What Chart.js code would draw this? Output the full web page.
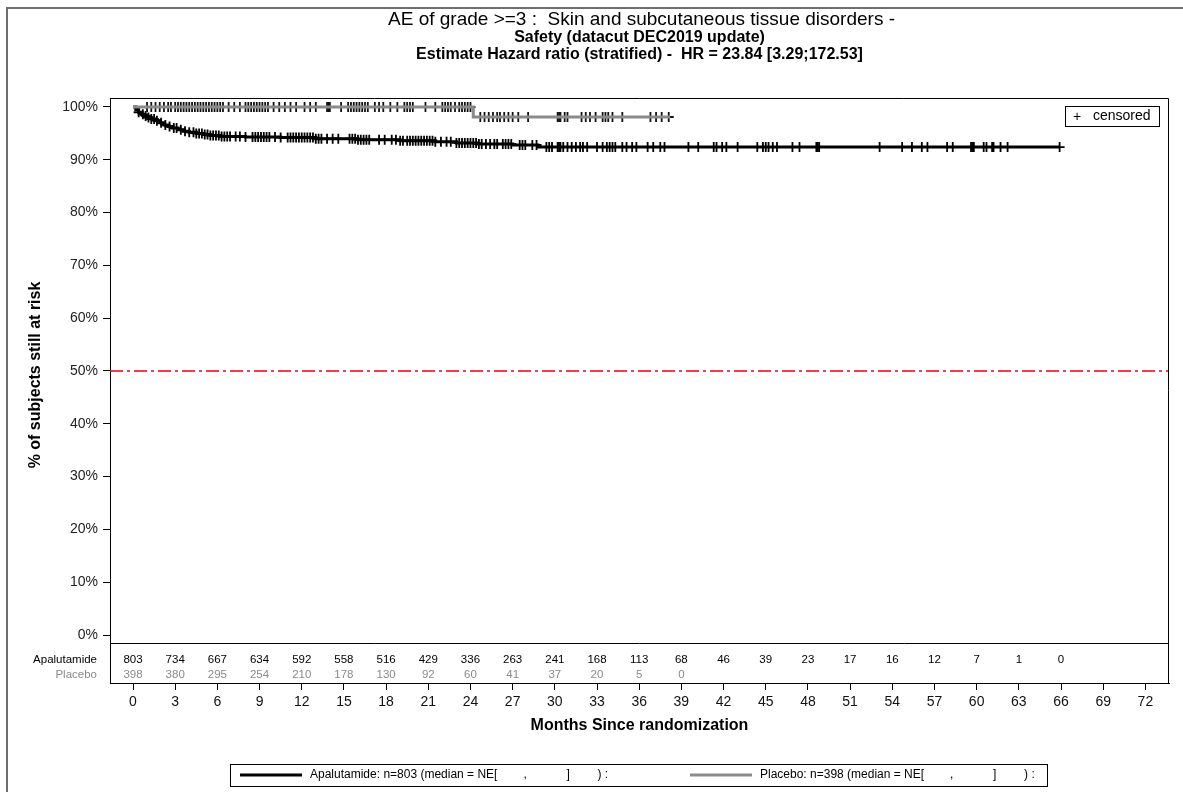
<!DOCTYPE html>
<html>
<head>
<meta charset="utf-8">
<title>AE of grade >=3 : Skin and subcutaneous tissue disorders</title>
<script src="https://cdn.jsdelivr.net/npm/chart.js@4.4.1/dist/chart.umd.min.js"></script>
<style>
  html, body { margin: 0; padding: 0; background: #fff; }
  canvas { display: block; }
</style>
</head>
<body>
<canvas id="km" width="1183" height="792"></canvas>
<script>
// ---- chart text ----
const titleMain = 'AE of grade >=3 :  Skin and subcutaneous tissue disorders -';
const titleSub = ['Safety (datacut DEC2019 update)',
                  'Estimate Hazard ratio (stratified) -  HR = 23.84 [3.29;172.53]'];
const yTitle = '% of subjects still at risk';
const xTitle = 'Months Since randomization';
const armNames = ['Apalutamide', 'Placebo'];

// ---- axes ----
const monthTicks = [0, 3, 6, 9, 12, 15, 18, 21, 24, 27, 30, 33, 36, 39, 42, 45, 48, 51, 54, 57, 60, 63, 66, 69, 72];
const pctTicks = [0, 10, 20, 30, 40, 50, 60, 70, 80, 90, 100];

// ---- numbers at risk (one value per 3-month tick) ----
const apaAtRisk = [803, 734, 667, 634, 592, 558, 516, 429, 336, 263, 241, 168, 113, 68, 46, 39, 23, 17, 16, 12, 7, 1, 0];
const plaAtRisk = [398, 380, 295, 254, 210, 178, 130, 92, 60, 41, 37, 20, 5, 0];

// ---- Kaplan-Meier steps (months, % without event) ----
const apaTimes = [0, 0.2, 0.4, 0.6, 0.8, 1.0, 1.3, 1.6, 1.9, 2.2, 2.5, 2.8, 3.2, 3.6, 4.0, 4.5, 5.0, 5.5, 6.2, 8.0, 10.5, 13.0, 16.0, 19.0, 21.5, 23.0, 24.5, 27.0, 28.8];
const apaSurv  = [100, 99.5, 99.0, 98.6, 98.3, 98.0, 97.7, 97.4, 97.0, 96.6, 96.3, 96.0, 95.7, 95.4, 95.2, 95.0, 94.8, 94.6, 94.4, 94.3, 94.2, 94.0, 93.8, 93.6, 93.4, 93.2, 93.0, 92.8, 92.4];
const apaLastFollowUp = 65.9;

const plaTimes = [0, 24.2];
const plaSurv  = [100, 98.1];
const plaLastFollowUp = 38.2;

// ---- censoring times (months) ----
const apaCensored = [0.4, 0.7, 0.9, 1.1, 1.3, 1.5, 1.7, 2.0, 2.3, 2.6, 2.9, 3.1, 3.4, 3.7, 4.0, 4.3, 4.5, 4.7, 4.9, 5.1, 5.3, 5.5, 5.7, 5.9,
  6.1, 6.3, 6.5, 6.7, 6.9, 7.3, 7.6, 8.0, 8.5, 8.7, 8.9, 9.1, 9.3, 9.5, 9.7, 10.1, 10.5, 11.0, 11.2, 11.4, 11.6, 11.8, 12.0, 12.2,
  12.4, 12.6, 12.8, 13.0, 13.2, 13.4, 13.8, 14.2, 14.6, 15.4, 15.6, 15.8, 16.0, 16.2, 16.4, 16.6, 16.8, 17.5, 17.9, 18.4, 18.7,
  19.0, 19.2, 19.5, 19.7, 19.9, 20.1, 20.3, 20.5, 20.7, 20.9, 21.1, 21.3, 21.5, 21.9, 22.3, 22.6, 23.0, 23.2, 23.4, 23.6, 23.8,
  24.0, 24.2, 24.4, 24.6, 24.8, 25.1, 25.4, 25.7, 25.9, 26.3, 26.5, 26.7, 26.9, 27.5, 27.7, 27.9, 28.4, 28.7, 29.4, 29.6, 29.8,
  30.2, 30.3, 30.4, 30.6, 30.9, 31.2, 31.5, 31.8, 32.0, 32.3, 33.0, 33.4, 33.7, 33.9, 34.1, 34.3, 34.8, 35.1, 35.5, 35.8, 36.6,
  37.0, 37.5, 37.8, 39.5, 40.2, 41.3, 41.5, 41.9, 42.2, 43.0, 44.4, 44.8, 45.0, 45.2, 45.5, 45.8, 46.9, 47.4, 48.6, 48.7, 48.8,
  53.1, 54.7, 55.4, 56.1, 56.5, 57.9, 58.3, 59.6, 59.7, 59.8, 60.5, 60.7, 61.1, 61.2, 61.7, 62.2, 65.9];
const plaCensored = [1.0, 1.3, 1.6, 1.9, 2.2, 2.5, 2.7, 3.0, 3.2, 3.4, 3.6, 3.8, 4.0, 4.2, 4.4, 4.6, 4.8, 5.0, 5.2, 5.4, 5.6, 5.8,
  6.0, 6.2, 6.4, 6.8, 7.2, 7.6, 8.0, 8.2, 8.4, 8.6, 8.8, 9.0, 9.2, 9.4, 9.6, 10.0, 10.4, 10.8, 11.2, 11.6, 12.2, 12.6, 13.0,
  13.8, 13.9, 14.0, 14.8, 15.3, 15.5, 15.7, 15.9, 16.1, 16.3, 16.5, 16.7, 17.2, 17.5, 17.8, 18.3, 18.8, 19.3, 19.5, 19.7, 19.9,
  20.8, 21.5, 22.0, 22.2, 22.4, 22.6, 22.9, 23.2, 23.4, 23.6, 23.8, 24.0, 24.7, 25.0, 25.3, 25.6, 25.9, 26.1, 26.4, 26.7, 27.0,
  27.4, 28.1, 30.2, 30.3, 30.4, 30.7, 30.9, 31.9, 32.2, 32.5, 32.9, 33.4, 33.6, 33.8, 34.1, 34.8, 36.8, 37.2, 37.6, 38.1];

const medianLevel = 50;

// ---- helpers ----
const FONT = '"Liberation Sans", Arial, Helvetica, sans-serif';

function levelAt(times, surv, t) {
  let v = surv[0];
  for (let i = 0; i < times.length; i++) {
    if (times[i] <= t) v = surv[i]; else break;
  }
  return v;
}
function stepPoints(times, surv, last) {
  const pts = times.map((t, i) => ({ x: t, y: surv[i] }));
  pts.push({ x: last, y: surv[surv.length - 1] });
  return pts;
}
function censorPoints(list, times, surv) {
  return list.map(t => ({ x: t, y: levelAt(times, surv, t) }));
}

const X_MIN = -1.636, X_MAX = 73.68;
const Y_MIN = -9.09, Y_MAX = 101.7;

// one legend entry: line sample, label and the empty median CI slots
function legendEntry(ctx, x, y, color, label) {
  ctx.lineWidth = 3;
  ctx.strokeStyle = color;
  ctx.beginPath(); ctx.moveTo(x, y); ctx.lineTo(x + 62, y); ctx.stroke();
  ctx.fillStyle = '#000';
  ctx.textAlign = 'left';
  const tx = x + 70;
  ctx.fillText(label, tx, y);
  const end = tx + ctx.measureText(label).width;
  ctx.fillText(',', end + 26, y);
  ctx.fillText(']', end + 69, y);
  ctx.fillText(') :', end + 100, y);
}

// decorations: frame, risk table, titles and legends
const kmDecor = {
  id: 'kmDecor',
  beforeDraw(chart) {
    const ctx = chart.ctx;
    ctx.save();
    ctx.fillStyle = '#fff';
    ctx.fillRect(0, 0, chart.width, chart.height);
    // outer page border
    ctx.strokeStyle = '#6e6e6e';
    ctx.lineWidth = 2;
    ctx.beginPath();
    ctx.moveTo(7, chart.height);
    ctx.lineTo(7, 8);
    ctx.lineTo(chart.width, 8);
    ctx.stroke();
    ctx.restore();
  },
  afterDraw(chart) {
    const ctx = chart.ctx;
    const a = chart.chartArea;
    const xs = chart.scales.x;
    ctx.save();

    // frame top / right and the risk-table separator
    ctx.strokeStyle = '#000';
    ctx.lineWidth = 1;
    ctx.beginPath();
    ctx.moveTo(a.left, a.top + 0.5);
    ctx.lineTo(a.right - 0.5, a.top + 0.5);
    ctx.lineTo(a.right - 0.5, a.bottom);
    ctx.moveTo(a.left, a.bottom - 39.5);
    ctx.lineTo(a.right, a.bottom - 39.5);
    ctx.stroke();

    // numbers at risk
    ctx.textBaseline = 'middle';
    ctx.textAlign = 'right';
    ctx.font = '11.5px ' + FONT;
    ctx.fillStyle = '#000';
    ctx.fillText(armNames[0], a.left - 13, a.bottom - 23);
    ctx.fillStyle = '#8a8a8a';
    ctx.fillText(armNames[1], a.left - 13, a.bottom - 8);
    ctx.textAlign = 'center';
    ctx.font = '11.5px ' + FONT;
    ctx.fillStyle = '#000';
    apaAtRisk.forEach((n, i) => ctx.fillText(String(n), xs.getPixelForValue(monthTicks[i]), a.bottom - 23));
    ctx.fillStyle = '#8a8a8a';
    plaAtRisk.forEach((n, i) => ctx.fillText(String(n), xs.getPixelForValue(monthTicks[i]), a.bottom - 8));

    // titles
    const cx = (a.left + a.right) / 2;
    ctx.fillStyle = '#000';
    ctx.font = '19px ' + FONT;
    ctx.fillText(titleMain, cx + 2, 20);
    ctx.font = 'bold 16px ' + FONT;
    ctx.fillText(titleSub[0], cx, 38);
    ctx.fillText(titleSub[1], cx, 55);

    // axis titles
    ctx.font = 'bold 16px ' + FONT;
    ctx.fillText(xTitle, cx, 726);
    ctx.save();
    ctx.translate(36, 375);
    ctx.rotate(-Math.PI / 2);
    ctx.fillText(yTitle, 0, 0);
    ctx.restore();

    // censored key
    ctx.strokeStyle = '#000';
    ctx.lineWidth = 1;
    ctx.strokeRect(a.right - 103.5, a.top + 8.5, 94, 20);
    ctx.font = '14px ' + FONT;
    ctx.textAlign = 'left';
    ctx.fillText('+', a.right - 96, a.top + 19);
    ctx.fillText('censored', a.right - 76, a.top + 18);

    // bottom legend
    const ly = 775;
    ctx.lineWidth = 1;
    ctx.strokeStyle = '#000';
    ctx.strokeRect(230.5, 764.5, 817, 22);
    ctx.font = '12px ' + FONT;
    legendEntry(ctx, 240, ly, '#000', 'Apalutamide: n=803 (median = NE[');
    legendEntry(ctx, 690, ly, '#8a8a8a', 'Placebo: n=398 (median = NE[');

    ctx.restore();
  }
};

new Chart(document.getElementById('km'), {
  type: 'line',
  data: {
    datasets: [
      {
        label: 'median',
        data: [{ x: X_MIN, y: medianLevel }, { x: X_MAX, y: medianLevel }],
        borderColor: '#e8000b',
        borderWidth: 1.5,
        borderDash: [13, 4, 3, 4],
        pointRadius: 0
      },
      {
        label: armNames[1],
        data: stepPoints(plaTimes, plaSurv, plaLastFollowUp),
        stepped: 'before',
        borderColor: '#8a8a8a',
        borderWidth: 3,
        pointRadius: 0
      },
      {
        label: armNames[0],
        data: stepPoints(apaTimes, apaSurv, apaLastFollowUp),
        stepped: 'before',
        borderColor: '#000',
        borderWidth: 3,
        pointRadius: 0
      },
      {
        label: armNames[1] + ' censored',
        data: censorPoints(plaCensored, plaTimes, plaSurv),
        showLine: false,
        pointStyle: 'cross',
        pointRadius: 5,
        pointBorderWidth: 1.8,
        pointBorderColor: '#111'
      },
      {
        label: armNames[0] + ' censored',
        data: censorPoints(apaCensored, apaTimes, apaSurv),
        showLine: false,
        pointStyle: 'cross',
        pointRadius: 5,
        pointBorderWidth: 1.8,
        pointBorderColor: '#000'
      }
    ]
  },
  options: {
    responsive: false,
    animation: false,
    devicePixelRatio: 1,
    layout: { padding: { left: 0, top: 98, right: 14, bottom: 0 } },
    plugins: {
      legend: { display: false },
      title: { display: false },
      tooltip: { enabled: false }
    },
    scales: {
      x: {
        type: 'linear',
        min: X_MIN,
        max: X_MAX,
        afterBuildTicks(s) { s.ticks = monthTicks.map(v => ({ value: v })); },
        afterFit(s) { s.height = 109; },
        ticks: { autoSkip: false, maxRotation: 0, padding: 4, color: '#111', font: { family: FONT, size: 14 } },
        grid: { drawOnChartArea: false, drawTicks: true, tickLength: 7, color: '#000' },
        border: { display: true, color: '#000', width: 1 }
      },
      y: {
        type: 'linear',
        min: Y_MIN,
        max: Y_MAX,
        afterBuildTicks(s) { s.ticks = pctTicks.map(v => ({ value: v })); },
        afterFit(s) { s.width = 110; },
        ticks: { autoSkip: false, padding: 5, color: '#222', font: { family: FONT, size: 14 }, callback: v => v + '%' },
        grid: { drawOnChartArea: false, drawTicks: true, tickLength: 7, color: '#000' },
        border: { display: true, color: '#000', width: 1 }
      }
    }
  },
  plugins: [kmDecor]
});
</script>
</body>
</html>
